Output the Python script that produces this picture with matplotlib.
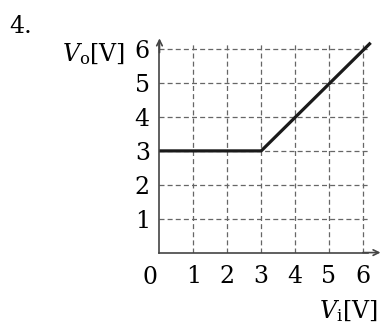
import matplotlib
matplotlib.use("Agg")
import matplotlib.pyplot as plt

plt.rcParams["font.family"] = "serif"
plt.rcParams["font.serif"] = ["DejaVu Serif"]
plt.rcParams["mathtext.fontset"] = "dejavuserif"

# transfer characteristic: input voltage vs output voltage
vi = [0, 3, 6.23]
vo = [3, 3, 6.19]
ticks = [1, 2, 3, 4, 5, 6]

fig = plt.figure(figsize=(3.81, 3.24), dpi=100)
ax = fig.add_axes([0.4186, 0.2204, 0.5472, 0.6466])
ax.set_xlim(0, 6.15)
ax.set_ylim(0, 6.18)

ax.set_xticks(ticks)
ax.set_yticks(ticks)
ax.tick_params(length=0, labelsize=17)
ax.tick_params(axis="x", pad=9)
ax.tick_params(axis="y", pad=7)
ax.grid(True, color="#666666", linestyle=(0, (4, 2.5)), linewidth=0.9)

for s in ["top", "right"]:
    ax.spines[s].set_visible(False)
for s in ["left", "bottom"]:
    ax.spines[s].set_color("#444444")
    ax.spines[s].set_linewidth(1.2)

# axis arrows
ax.annotate("", xy=(6.52, 0), xytext=(6.0, 0), annotation_clip=False,
            arrowprops=dict(arrowstyle="->", color="#444444", lw=1.2,
                            shrinkA=0, shrinkB=0))
ax.annotate("", xy=(0, 6.32), xytext=(0, 5.9), annotation_clip=False,
            arrowprops=dict(arrowstyle="->", color="#444444", lw=1.2,
                            shrinkA=0, shrinkB=0))

ax.plot(vi, vo, color="#1a1a1a", linewidth=2.3, clip_on=False,
        solid_capstyle="butt", zorder=5)

ax.text(-0.28, -0.4, "0", fontsize=17, ha="center", va="top", clip_on=False)
ax.text(-1.02, 5.65, r"$V_{\rm o}$[V]", fontsize=17, ha="right",
        va="baseline", clip_on=False)
ax.text(6.44, -1.93, r"$V_{\rm i}$[V]", fontsize=17, ha="right",
        va="baseline", clip_on=False)
fig.text(9 / 381, 1 - 33 / 324, "4.", fontsize=17, ha="left", va="baseline")

fig.savefig("out.png", dpi=100)
